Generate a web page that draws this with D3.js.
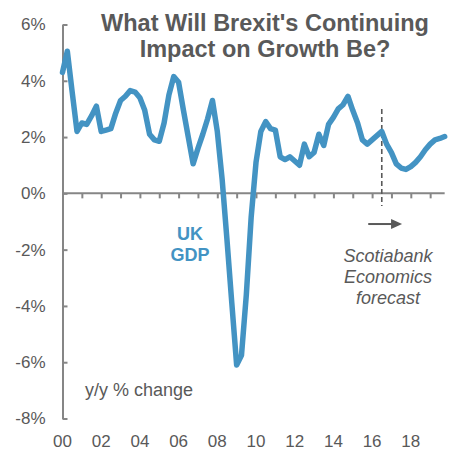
<!DOCTYPE html>
<html lang="en">
<head>
	<meta charset="UTF-8"/>
	<title>UK GDP - Brexit growth impact</title>
	<script src="https://d3js.org/d3.v7.min.js"></script>
	<style>
		body { margin: 0; background: #fff; }
		text { font-family: Arial, "Liberation Sans", sans-serif; }
	</style>
</head>
<body>
	<script>

		var w = 449;
		var h = 451;

		// quarterly y/y % change, 2000Q1 .. 2019Q4 (from 2016Q3 on = forecast)
		var startYear = 2000;
		var gdpYoY = [
			4.3, 5.05, 3.6, 2.2,   2.5, 2.45, 2.75, 3.1,
			2.2, 2.25, 2.3, 2.85,  3.3, 3.45, 3.65, 3.6,
			3.4, 2.95, 2.1, 1.9,   1.85, 2.5, 3.5, 4.15,
			3.95, 2.95, 2.0, 1.05, 1.6, 2.1, 2.65, 3.3,
			2.2, 0.5, -1.65, -3.9, -6.1, -5.75, -3.6, -0.85,
			1.1, 2.2, 2.55, 2.3,   2.25, 1.3, 1.2, 1.3,
			1.15, 1.0, 1.75, 1.3,  1.45, 2.1, 1.7, 2.45,
			2.7, 3.0, 3.15, 3.45,  2.95, 2.5, 1.9, 1.75,
			1.9, 2.05, 2.2, 1.75,  1.45, 1.05, 0.9, 0.85,
			0.95, 1.1, 1.3, 1.55,  1.75, 1.9, 1.95, 2.02
		];
		var forecastStart = 2016.5;

		var yTicks = [6, 4, 2, 0, -2, -4, -6, -8];
		var xMinorTicks = d3.range(2001, 2020);
		var xLabelYears = [2000, 2002, 2004, 2006, 2008, 2010, 2012, 2014, 2016, 2018];
		var xLabels = ["00", "02", "04", "06", "08", "10", "12", "14", "16", "18"];

		var textGrey = "#595959";
		var axisGrey = "#868686";
		var lineBlue = "#4393c3";

		var xScale = d3.scaleLinear()
						.domain([2000, 2020])
						.range([62.5, 449.5]);

		var yScale = d3.scaleLinear()
						.domain([-8, 6])
						.range([418.5, 24.5]);

		var svg = d3.select("body")
			.append("svg")
			.attr("width", w)
			.attr("height", h);

		// y axis, ticks pointing inwards
		var yAxis = d3.axisLeft(yScale)
						.tickValues(yTicks)
						.tickSize(-5)
						.tickSizeOuter(0)
						.tickPadding(17)
						.tickFormat(function(d){ return d + "%"; });

		var gy = svg.append("g")
			.attr("transform", "translate(" + xScale(2000) + ",0)")
			.call(yAxis);
		gy.select(".domain").attr("stroke", axisGrey).attr("stroke-width", 2);
		gy.selectAll(".tick line").attr("stroke", axisGrey).attr("stroke-width", 2);
		gy.selectAll(".tick text")
			.attr("fill", textGrey)
			.style("font-size", "17px");

		// zero line with yearly ticks
		var xAxis = d3.axisBottom(xScale)
						.tickValues(xMinorTicks)
						.tickSize(5)
						.tickSizeOuter(0)
						.tickFormat("");

		var gx = svg.append("g")
			.attr("transform", "translate(0," + yScale(0) + ")")
			.call(xAxis);
		gx.select(".domain").remove();
		gx.selectAll(".tick line").attr("stroke", axisGrey).attr("stroke-width", 2);
		gx.append("line")
			.attr("x1", xScale(2000))
			.attr("x2", xScale(2019.75))
			.attr("stroke", axisGrey)
			.attr("stroke-width", 2);

		// year labels along the bottom
		svg.selectAll("text.year")
			.data(xLabelYears)
			.enter()
			.append("text")
			.attr("class", "year")
			.attr("x", function(d){ return xScale(d); })
			.attr("y", 447)
			.attr("text-anchor", "middle")
			.attr("fill", textGrey)
			.style("font-size", "17px")
			.text(function(d, i){ return xLabels[i]; });

		// forecast divider
		svg.append("line")
			.attr("x1", xScale(forecastStart))
			.attr("x2", xScale(forecastStart))
			.attr("y1", yScale(3.0))
			.attr("y2", yScale(-0.45))
			.attr("stroke", textGrey)
			.attr("stroke-width", 1.6)
			.attr("stroke-dasharray", "5,3");

		// gdp line
		var line = d3.line()
			.x(function(d, i){ return xScale(startYear + i / 4); })
			.y(function(d){ return yScale(d); });

		svg.append("path")
			.datum(gdpYoY)
			.attr("d", line)
			.attr("fill", "none")
			.attr("stroke", lineBlue)
			.attr("stroke-width", 5.5)
			.attr("stroke-linejoin", "round")
			.attr("stroke-linecap", "round");

		// title
		var title = svg.append("text")
			.attr("text-anchor", "middle")
			.attr("fill", textGrey)
			.style("font-size", "23.5px")
			.style("font-weight", "bold");
		title.append("tspan").attr("x", 265).attr("y", 31).text("What Will Brexit's Continuing");
		title.append("tspan").attr("x", 265).attr("y", 57).text("Impact on Growth Be?");

		// series label
		var lab = svg.append("text")
			.attr("text-anchor", "middle")
			.attr("fill", lineBlue)
			.style("font-size", "18px")
			.style("font-weight", "bold");
		lab.append("tspan").attr("x", 190).attr("y", 240).text("UK");
		lab.append("tspan").attr("x", 190).attr("y", 261).text("GDP");

		// forecast note
		var note = svg.append("text")
			.attr("text-anchor", "middle")
			.attr("fill", textGrey)
			.style("font-size", "18px")
			.style("font-style", "italic");
		note.append("tspan").attr("x", 388).attr("y", 262).text("Scotiabank");
		note.append("tspan").attr("x", 388).attr("y", 283).text("Economics");
		note.append("tspan").attr("x", 388).attr("y", 304).text("forecast");

		// arrow
		svg.append("line")
			.attr("x1", xScale(2015.8))
			.attr("x2", xScale(2017.3))
			.attr("y1", yScale(-1.09))
			.attr("y2", yScale(-1.09))
			.attr("stroke", textGrey)
			.attr("stroke-width", 2);
		var ax = xScale(2017.55), ay = yScale(-1.09);
		svg.append("path")
			.attr("d", "M" + ax + "," + ay + "L" + (ax - 11) + "," + (ay - 5) + "L" + (ax - 11) + "," + (ay + 5) + "Z")
			.attr("fill", textGrey);

		// unit note
		svg.append("text")
			.attr("x", 85)
			.attr("y", 396)
			.attr("fill", textGrey)
			.style("font-size", "18px")
			.text("y/y % change");

	</script>
</body>
</html>
